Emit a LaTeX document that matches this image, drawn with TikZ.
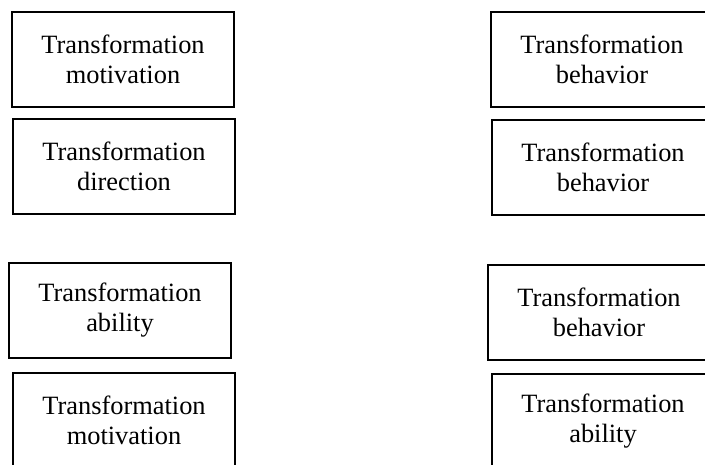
\documentclass[tikz,border=0pt]{standalone}
\usepackage{fontspec}
\setmainfont{Liberation Serif}
\tikzset{
    factor/.style={draw, line width=1.5pt, minimum width=166.5pt, minimum height=71.25pt,
        inner sep=0pt, align=center, font=\fontsize{19.8}{22.5}\selectfont}
}
\begin{document}
\begin{tikzpicture}[x=0.75pt, y=-0.75pt]

    \useasboundingbox (0,0) rectangle (705,464);

    % left column
    \node[factor] (motivA) at (123,59.5) {Transformation\\motivation};
    \node[factor] (direct) at (124,166.5) {Transformation\\direction};
    \node[factor] (abilA) at (120,310.5) {Transformation\\ability};
    \node[factor] (motivB) at (124,420.5) {Transformation\\motivation};

    % right column
    \node[factor] (behavA) at (602,59.5) {Transformation\\behavior};
    \node[factor] (behavB) at (603,167) {Transformation\\behavior};
    \node[factor] (behavC) at (599,312.5) {Transformation\\behavior};
    \node[factor] (abilB) at (603,421.5) {Transformation\\ability};

\end{tikzpicture}
\end{document}
